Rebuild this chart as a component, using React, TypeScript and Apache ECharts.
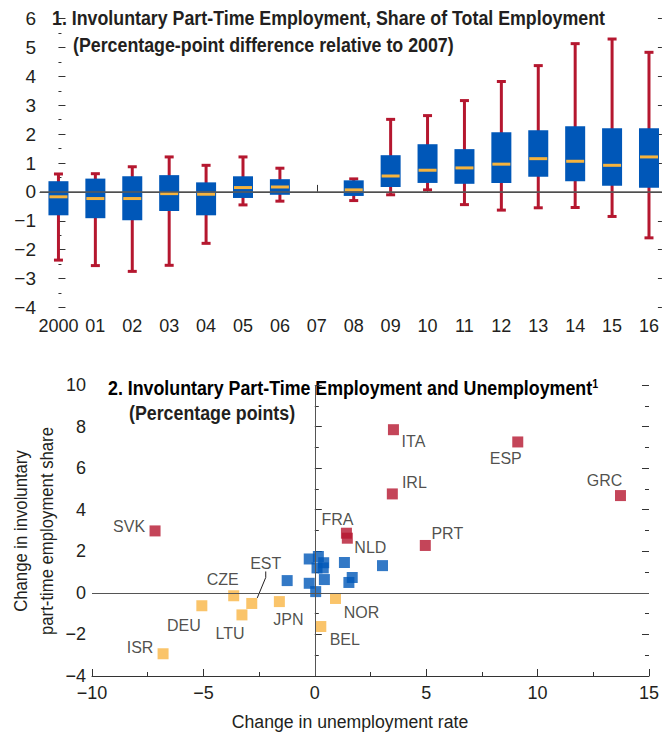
import React, { useEffect, useRef } from "react";
import * as echarts from "echarts";

// ---------- Panel 1 data ----------
const years = ["2000", "01", "02", "03", "04", "05", "06", "07", "08", "09", "10", "11", "12", "13", "14", "15", "16"];
const whiskerLow = [-2.36, -2.55, -2.75, -2.54, -1.78, -0.45, -0.32, null, -0.3, -0.1, 0.07, -0.44, -0.63, -0.55, -0.54, -0.85, -1.59];
const quart1 = [-0.81, -0.91, -0.98, -0.66, -0.81, -0.21, -0.1, null, -0.14, 0.17, 0.31, 0.28, 0.31, 0.52, 0.37, 0.21, 0.14];
const medians = [-0.17, -0.23, -0.23, -0.06, -0.08, 0.15, 0.17, null, 0.07, 0.55, 0.75, 0.83, 0.96, 1.15, 1.06, 0.92, 1.21];
const quart3 = [0.37, 0.46, 0.54, 0.58, 0.33, 0.54, 0.44, null, 0.4, 1.27, 1.65, 1.48, 2.06, 2.13, 2.27, 2.2, 2.2];
const whiskerHigh = [0.62, 0.63, 0.87, 1.21, 0.92, 1.21, 0.82, null, 0.45, 2.51, 2.64, 3.16, 3.82, 4.37, 5.13, 5.29, 4.83];
const yRange1 = [-4, 6];

// ---------- Panel 2 data ----------
const redNames = ["SVK", "FRA", "NLD", "ITA", "ESP", "IRL", "PRT", "GRC"];
const redX = [-7.17, 1.42, 1.46, 3.53, 9.11, 3.48, 4.96, 13.72];
const redY = [2.98, 2.87, 2.63, 7.85, 7.26, 4.76, 2.28, 4.68];
const yellowNames = ["ISR", "DEU", "CZE", "LTU", "EST", "JPN", "NOR", "BEL"];
const yellowX = [-6.81, -5.07, -3.64, -3.27, -2.83, -1.59, 0.93, 0.27];
const yellowY = [-2.93, -0.62, -0.14, -1.06, -0.51, -0.42, -0.27, -1.62];
const blueX = [-1.24, -0.25, -0.25, 0.16, 0.4, 0.1, 0.38, 0.04, 0.43, 1.33, 1.68, 1.53, 3.04];
const blueY = [0.59, 0.46, 1.63, 1.75, 1.45, 1.2, 1.2, 0.06, 0.64, 1.46, 0.74, 0.5, 1.31];
const yRange2 = [-4, 10];
const xRange2 = [-10, 15];

// label placement (style, not data)
const labelOffsets: Record<string, [number, number]> = {
  SVK: [-26, -4], FRA: [-9, -14], NLD: [23, 9], ITA: [20, 12], ESP: [-12, 17], IRL: [22, -11],
  PRT: [22, -12], GRC: [-16, -15], ISR: [-23, -6], DEU: [-18, 20], CZE: [-11, -16], LTU: [-12, 19],
  EST: [14, -40], JPN: [9, 18], NOR: [26, 14], BEL: [24, 13],
};

const FONT = '"Liberation Sans", Arial, sans-serif';
const TXT = "#231f20";
const BLUE = "#0057b8";
const RED = "#b5172f";
const ORANGE = "#f6b33d";
const YELLOW = "#f9b545";

const minus = (v: number) => String(v).replace("-", "\u2212");

export default function App() {
  const ref = useRef<HTMLDivElement>(null);
  useEffect(() => {
    if (!ref.current) return;
    const chart = echarts.init(ref.current, null, { renderer: "svg" });

    const boxData: any[] = [];
    years.forEach((_, i) => {
      if (medians[i] === null) return;
      boxData.push([i, whiskerLow[i], quart1[i], medians[i], quart3[i], whiskerHigh[i]]);
    });

    const pick = (names: string[], xs: number[], ys: number[], keep: (n: string) => boolean) => {
      const out: any[] = [];
      names.forEach((n, i) => {
        if (keep(n)) out.push({ name: n, value: [xs[i], ys[i]] });
      });
      return out;
    };

    const layoutFn = (params: any, items: any[]) => {
      const n = items[params.dataIndex]?.name;
      const off = labelOffsets[n] || [0, 0];
      const r = params.rect;
      return {
        x: r.x + r.width / 2 + off[0],
        y: r.y + r.height / 2 + off[1],
        align: "center",
        verticalAlign: "middle",
      };
    };

    const scatterLabel = {
      show: true,
      position: "inside",
      formatter: (p: any) => p.name,
      fontFamily: FONT,
      fontSize: 16,
      color: TXT,
      textBorderWidth: 0,
      textBorderColor: "transparent",
      align: "center",
      verticalAlign: "middle",
    };

    const yellowMain = pick(yellowNames, yellowX, yellowY, (n) => n !== "EST");
    const yellowEst = pick(yellowNames, yellowX, yellowY, (n) => n === "EST");
    const redData = pick(redNames, redX, redY, () => true);
    const blueData = blueX.map((x, i) => [x, blueY[i]]);

    const axisLbl = { fontFamily: FONT, fontSize: 18, color: TXT };

    const sq = { type: "scatter", xAxisIndex: 1, yAxisIndex: 2, symbol: "rect", symbolSize: 11, z: 3 };

    const option: any = {
      animation: false,
      grid: [
        { left: 40, right: 0, top: 18.5, height: 289 },
        { left: 92, right: 5, top: 385, height: 291 },
      ],
      xAxis: [
        {
          gridIndex: 0,
          type: "value",
          min: -0.5,
          max: 16.35,
          splitLine: { show: false },
          axisLine: { show: true, lineStyle: { color: "#333", width: 1 } },
          axisTick: { show: true, inside: true, length: 7, customValues: years.map((_, i) => i), lineStyle: { color: "#333" } },
          axisLabel: { ...axisLbl, margin: 9, customValues: years.map((_, i) => i), formatter: (v: number) => years[Math.round(v)] ?? "" },
        },
        {
          gridIndex: 1,
          type: "value",
          min: xRange2[0],
          max: xRange2[1],
          interval: 5,
          splitLine: { show: false },
          axisLine: { show: true, onZero: false, lineStyle: { color: "#333", width: 1 } },
          axisTick: { show: true, inside: true, length: 7, lineStyle: { color: "#333" } },
          minorTick: { show: true, splitNumber: 2, length: 4, lineStyle: { color: "#333" } },
          axisLabel: { ...axisLbl, margin: 8, formatter: (v: number) => minus(v) },
        },
      ],
      yAxis: [
        {
          gridIndex: 0,
          type: "value",
          min: yRange1[0],
          max: yRange1[1],
          interval: 1,
          splitLine: { show: false },
          axisLine: { show: false },
          axisTick: { show: true, inside: true, length: 7, lineStyle: { color: "#333" } },
          minorTick: { show: true, splitNumber: 2, length: 3, lineStyle: { color: "#333" } },
          axisLabel: { ...axisLbl, fontSize: 19, margin: 4, formatter: (v: number) => minus(v) },
        },
        {
          gridIndex: 0,
          type: "value",
          position: "right",
          min: yRange1[0],
          max: yRange1[1],
          interval: 1,
          splitLine: { show: false },
          axisLine: { show: false },
          axisTick: { show: true, inside: true, length: 4, lineStyle: { color: "#333" } },
          axisLabel: { show: false },
        },
        {
          gridIndex: 1,
          type: "value",
          min: yRange2[0],
          max: yRange2[1],
          interval: 2,
          splitLine: { show: false },
          axisLine: { show: false },
          axisTick: { show: true, inside: true, length: 7, lineStyle: { color: "#333" } },
          minorTick: { show: true, splitNumber: 2, length: 4, lineStyle: { color: "#333" } },
          axisLabel: { ...axisLbl, margin: 6, formatter: (v: number) => minus(v) },
        },
        {
          gridIndex: 1,
          type: "value",
          position: "right",
          min: yRange2[0],
          max: yRange2[1],
          interval: 2,
          splitLine: { show: false },
          axisLine: { show: false },
          axisTick: { show: true, inside: true, length: 7, lineStyle: { color: "#333" } },
          minorTick: { show: true, splitNumber: 2, length: 4, lineStyle: { color: "#333" } },
          axisLabel: { show: false },
        },
      ],
      series: [
        {
          type: "custom",
          xAxisIndex: 0,
          yAxisIndex: 0,
          encode: { x: 0, y: [1, 2, 3, 4, 5] },
          data: boxData,
          z: 2,
          renderItem: (params: any, api: any) => {
            const x = api.value(0);
            const lo = api.coord([x, api.value(1)]);
            const b1 = api.coord([x, api.value(2)]);
            const md = api.coord([x, api.value(3)]);
            const b3 = api.coord([x, api.value(4)]);
            const hi = api.coord([x, api.value(5)]);
            const cx = lo[0];
            const bw = 20;
            const cw = 9;
            return {
              type: "group",
              children: [
                { type: "line", shape: { x1: cx, y1: hi[1], x2: cx, y2: lo[1] }, style: { stroke: RED, lineWidth: 3 } },
                { type: "line", shape: { x1: cx - cw / 2, y1: hi[1], x2: cx + cw / 2, y2: hi[1] }, style: { stroke: RED, lineWidth: 3 } },
                { type: "line", shape: { x1: cx - cw / 2, y1: lo[1], x2: cx + cw / 2, y2: lo[1] }, style: { stroke: RED, lineWidth: 3 } },
                { type: "rect", shape: { x: cx - bw / 2, y: b3[1], width: bw, height: b1[1] - b3[1] }, style: { fill: BLUE } },
                { type: "line", shape: { x1: cx - bw / 2 + 1, y1: md[1], x2: cx + bw / 2 - 1, y2: md[1] }, style: { stroke: ORANGE, lineWidth: 3 } },
              ],
            };
          },
        },
        {
          type: "scatter",
          xAxisIndex: 0,
          yAxisIndex: 0,
          data: [],
          z: 5,
          markLine: {
            silent: true,
            symbol: "none",
            label: { show: false },
            lineStyle: { color: "rgba(90,90,90,0.75)", width: 2, type: "solid" },
            data: [{ yAxis: 0 }],
          },
        },
        { ...sq, itemStyle: { color: BLUE }, data: blueData },
        {
          ...sq,
          itemStyle: { color: YELLOW },
          data: yellowMain,
          label: scatterLabel,
          labelLine: { show: false },
          labelLayout: (p: any) => layoutFn(p, yellowMain),
        },
        {
          ...sq,
          itemStyle: { color: YELLOW },
          data: yellowEst,
          label: scatterLabel,
          labelLayout: (p: any) => layoutFn(p, yellowEst),
          labelLine: { show: true, length2: 6, lineStyle: { color: TXT, width: 1 } },
        },
        {
          ...sq,
          itemStyle: { color: RED },
          data: redData,
          label: scatterLabel,
          labelLine: { show: false },
          labelLayout: (p: any) => layoutFn(p, redData),
        },
        {
          type: "scatter",
          xAxisIndex: 1,
          yAxisIndex: 2,
          data: [],
          z: 6,
          markLine: {
            silent: true,
            symbol: "none",
            label: { show: false },
            lineStyle: { color: "#555", width: 1, type: "solid" },
            data: [{ xAxis: 0 }, { yAxis: 0 }],
          },
        },
      ],
      graphic: [
        {
          type: "text",
          x: 52,
          y: 18,
          scaleX: 0.89,
          style: { text: "1. Involuntary Part-Time Employment, Share of Total Employment", fontFamily: FONT, fontWeight: "bold", fontSize: 20, fill: TXT, align: "left", verticalAlign: "middle" },
        },
        {
          type: "text",
          x: 73,
          y: 45,
          scaleX: 0.89,
          style: { text: "(Percentage-point difference relative to 2007)", fontFamily: FONT, fontWeight: "bold", fontSize: 20, fill: TXT, align: "left", verticalAlign: "middle" },
        },
        {
          type: "text",
          x: 108,
          y: 388,
          scaleX: 0.89,
          style: {
            text: "{a|2. Involuntary Part-Time Employment and Unemployment}{s|1}",
            align: "left",
            verticalAlign: "middle",
            rich: {
              a: { fontFamily: FONT, fontWeight: "bold", fontSize: 20, color: TXT },
              s: { fontFamily: FONT, fontWeight: "bold", fontSize: 12, color: TXT, verticalAlign: "top" },
            },
          },
        },
        {
          type: "text",
          x: 129,
          y: 413,
          scaleX: 0.89,
          style: { text: "(Percentage points)", fontFamily: FONT, fontWeight: "bold", fontSize: 20, fill: TXT, align: "left", verticalAlign: "middle" },
        },
        {
          type: "text",
          x: 21,
          y: 531,
          rotation: Math.PI / 2,
          scaleX: 0.88,
          style: { text: "Change in involuntary", fontFamily: FONT, fontSize: 19, fill: TXT, align: "center", verticalAlign: "middle" },
        },
        {
          type: "text",
          x: 47,
          y: 531,
          rotation: Math.PI / 2,
          scaleX: 0.88,
          style: { text: "part-time employment share", fontFamily: FONT, fontSize: 19, fill: TXT, align: "center", verticalAlign: "middle" },
        },
        {
          type: "text",
          x: 350,
          y: 721,
          scaleX: 0.93,
          style: { text: "Change in unemployment rate", fontFamily: FONT, fontSize: 19, fill: TXT, align: "center", verticalAlign: "middle" },
        },
      ],
    };

    chart.setOption(option);
    return () => chart.dispose();
  }, []);

  return <div ref={ref} style={{ position: "fixed", left: 0, top: 0, width: 662, height: 734, background: "#fff" }} />;
}
